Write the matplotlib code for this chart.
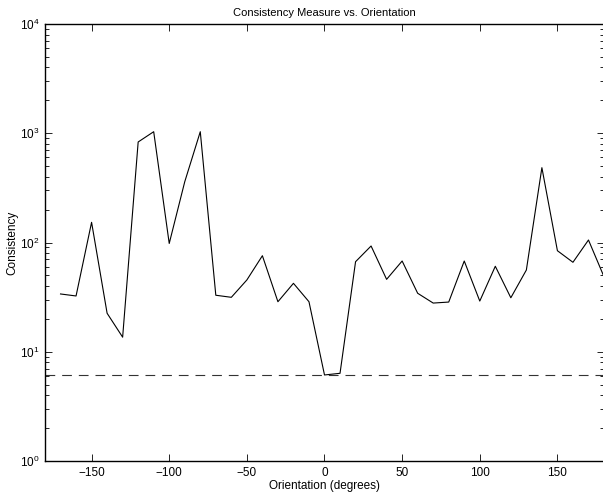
import matplotlib
matplotlib.use("Agg")
import matplotlib.pyplot as plt
from matplotlib.ticker import LogLocator, NullFormatter, FixedLocator

plt.rcParams['font.family'] = ['Liberation Sans', 'DejaVu Sans']
plt.rcParams['lines.scale_dashes'] = False

orientation = [-170, -160, -150, -140, -130, -120, -110, -100, -90, -80,
               -70, -60, -50, -40, -30, -20, -10, 0, 10, 20,
               30, 40, 50, 60, 70, 80, 90, 100, 110, 120,
               130, 140, 150, 160, 170, 180]
consistency = [33.8, 32.4, 153, 22.5, 13.6, 832, 1033, 98, 360, 1033,
               32.9, 31.5, 45.4, 75.7, 28.7, 42.3, 28.7, 6.13, 6.35, 66.7,
               92.9, 46.0, 67.7, 34.3, 27.9, 28.5, 67.7, 29.1, 60.6, 31.2,
               56.0, 484, 84.1, 65.9, 105.4, 48.6]
threshold = 6.13
xticks = [-150, -100, -50, 0, 50, 100, 150]

fig = plt.figure(figsize=(6.03, 4.95), dpi=100)
W, H = 603, 495
left, right, top, bottom = 45, 604, 24, 461
ax = fig.add_axes([left / W, 1 - bottom / H, (right - left) / W, (bottom - top) / H])

ax.plot(orientation, consistency, color='black', linewidth=0.8)
ax.axhline(threshold, color='#333333', linewidth=0.8, linestyle=(0, (7, 5)))

ax.set_yscale('log')
ax.set_xlim(-180, 180)
ax.set_ylim(1, 1e4)
ax.xaxis.set_major_locator(FixedLocator(xticks))
ax.yaxis.set_major_locator(LogLocator(base=10, numticks=10))
ax.yaxis.set_minor_locator(LogLocator(base=10, subs=range(2, 10), numticks=20))
ax.yaxis.set_minor_formatter(NullFormatter())

ax.tick_params(which='both', direction='in', top=True, right=True, labelsize=8.5, width=0.6)
ax.tick_params(which='major', length=5, pad=4)
ax.tick_params(which='minor', length=3)
for s in ax.spines.values():
    s.set_linewidth(1.0)

ax.set_xticklabels([str(v).replace('-', '\u2212') for v in xticks])
ax.set_title('Consistency Measure vs. Orientation', fontsize=8, pad=6)
ax.set_xlabel('Orientation (degrees)', fontsize=8.5, labelpad=1)
ax.set_ylabel('Consistency', fontsize=8.5, labelpad=0)
ax.yaxis.set_label_coords(-27 / (right - left), 0.5)

fig.savefig('out.png', dpi=100)
